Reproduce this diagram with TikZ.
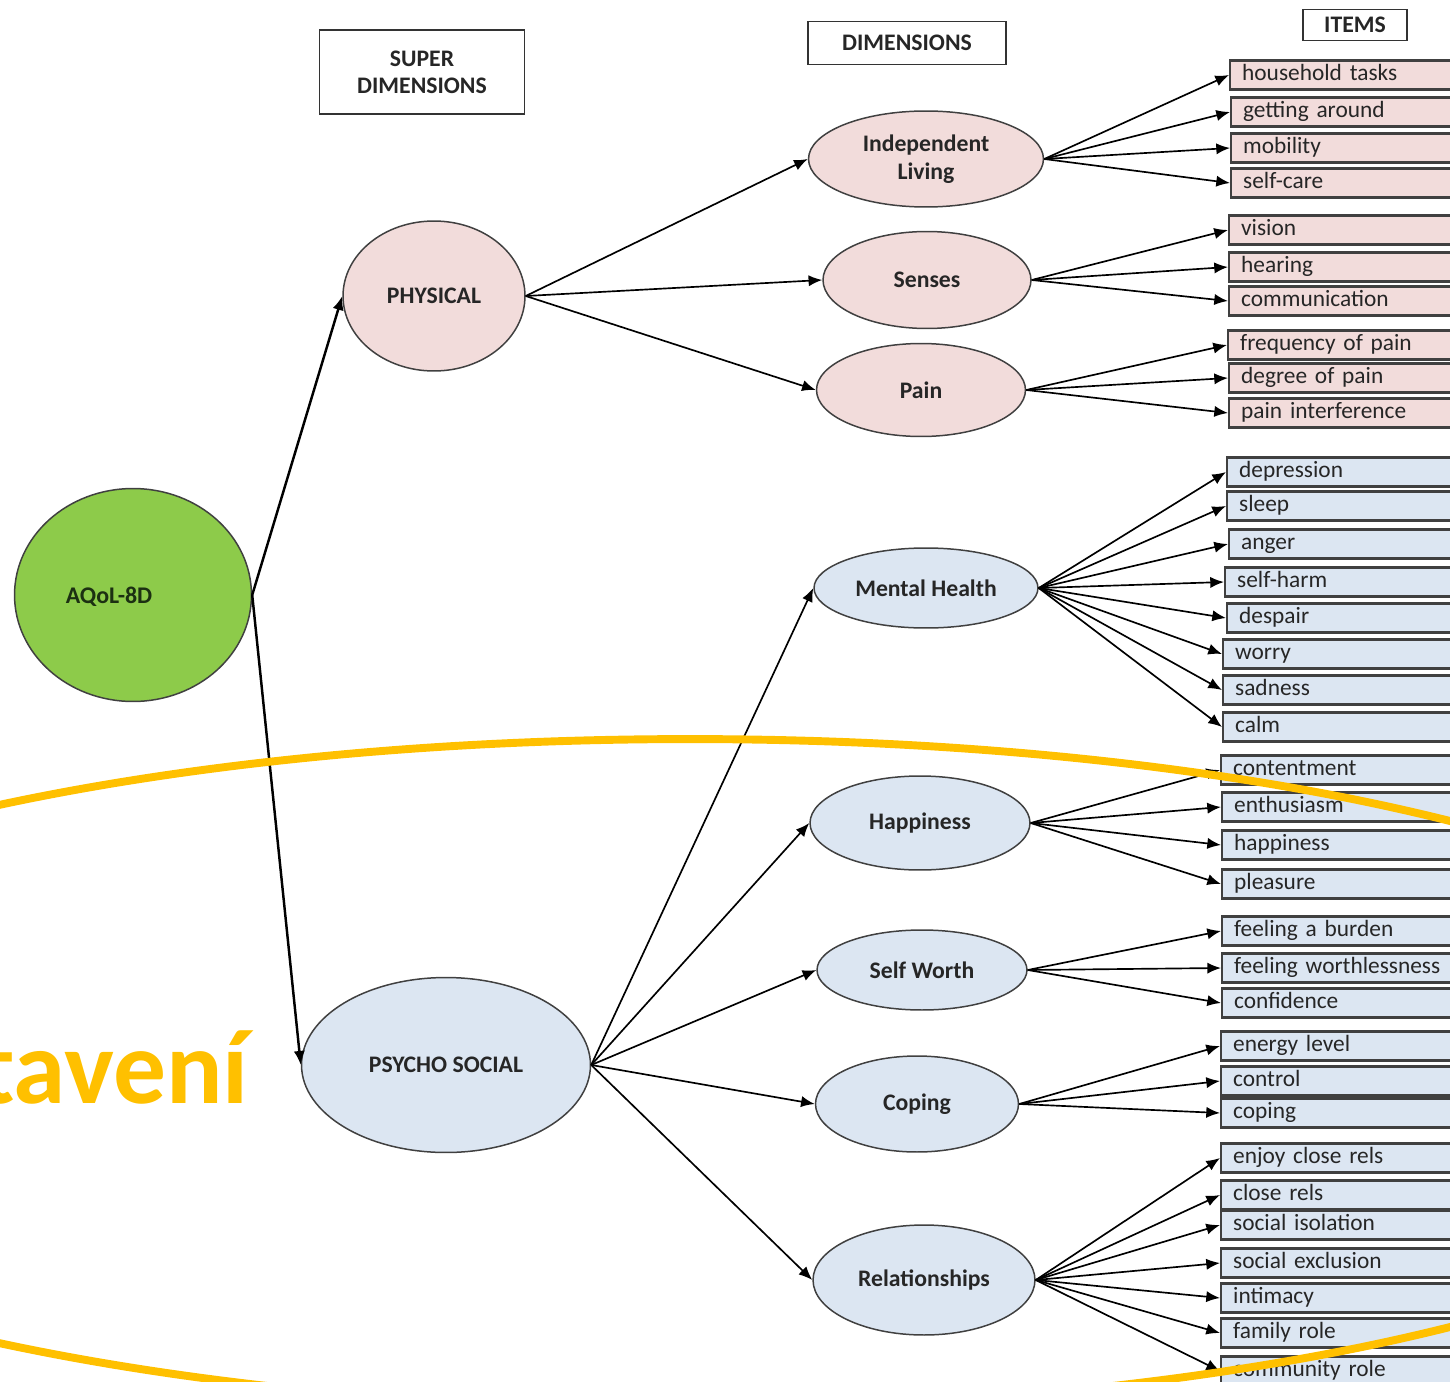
\documentclass[tikz,border=0pt]{standalone}
\usepackage{fontspec}
\setmainfont{Carlito}
\usetikzlibrary{arrows.meta,shapes.geometric}
\definecolor{pinkfill}{RGB}{242,220,219}
\definecolor{bluefill}{RGB}{220,230,242}
\definecolor{aqolgreen}{RGB}{141,203,74}
\definecolor{aqoltext}{RGB}{28,48,18}
\definecolor{gold}{RGB}{255,192,0}
\begin{document}
\begin{tikzpicture}[x=0.02cm,y=-0.02cm]

    \tikzset{
      dim/.style={
        ellipse,
        draw=black!75,
        line width=0.85pt,
        inner sep=0pt,
        align=center,
        text=black!85,
        font=\fontsize{13.5}{15.8}\selectfont\bfseries,
      },
      header/.style={
        draw=black!80,
        line width=1.1pt,
        inner sep=0pt,
        align=center,
        text=black!85,
        font=\fontsize{13.5}{15.3}\selectfont\bfseries,
      },
      item/.style={
        draw=black!75,
        line width=1.3pt,
        anchor=west,
        minimum height=0.58cm,
        text width=4.32cm,
        inner xsep=0.24cm,
        inner ysep=0pt,
        align=left,
        text=black!85,
        font=\fontsize{13.3}{15}\selectfont,
      },
      link/.style={-{Latex[length=7.8pt,width=6.4pt]}, line width=0.95pt},
      mainlink/.style={-{Latex[length=8pt,width=6.4pt]}, line width=1.4pt},
    }
    \useasboundingbox (0,0) rectangle (1450,1382);
    \clip (0,0) rectangle (1450,1382);

	\node[header, minimum width=4.1cm, minimum height=1.68cm] (superhd) at (422,72) {SUPER\\DIMENSIONS};
	\node[header, minimum width=3.96cm, minimum height=0.86cm] (dimhd) at (907,43) {DIMENSIONS};
	\node[header, minimum width=2.08cm, minimum height=0.62cm] (itemhd) at (1355,25) {ITEMS};

	\node[dim, fill=aqolgreen, minimum width=4.74cm, minimum height=4.26cm] (aqol) at (133,595) {};
	\node[text=aqoltext, font=\fontsize{13.6}{15}\selectfont\bfseries] (aqoltxt) at (109,597) {AQoL-8D};
	\node[dim, fill=pinkfill, minimum width=3.64cm, minimum height=3cm] (phys) at (434,296) {PHYSICAL};
	\node[dim, fill=bluefill, minimum width=5.78cm, minimum height=3.5cm] (psy) at (446,1065) {PSYCHO SOCIAL};

	\node[dim, fill=pinkfill, minimum width=4.7cm, minimum height=1.92cm] (indep) at (926,159) {Independent\\Living};
	\node[dim, fill=pinkfill, minimum width=4.16cm, minimum height=1.94cm] (senses) at (927,280) {Senses};
	\node[dim, fill=pinkfill, minimum width=4.18cm, minimum height=1.86cm] (pain) at (921,390) {Pain};
	\node[dim, fill=bluefill, minimum width=4.48cm, minimum height=1.6cm] (mental) at (926,588) {Mental Health};
	\node[dim, fill=bluefill, minimum width=4.4cm, minimum height=1.88cm] (happy) at (920,823) {Happiness};
	\node[dim, fill=bluefill, minimum width=4.2cm, minimum height=1.6cm] (selfw) at (922,970) {Self Worth};
	\node[dim, fill=bluefill, minimum width=4.06cm, minimum height=1.92cm] (coping) at (917,1104) {Coping};
	\node[dim, fill=bluefill, minimum width=4.44cm, minimum height=2.2cm] (rel) at (924,1280) {Relationships};

	\foreach \nm/\x/\y/\txt in {hh/1229/75/household tasks, ga/1230/112/getting around, mob/1230/148/mobility, sc/1230/183/self-care, vis/1228/230/vision, hear/1228/267/hearing, comm/1228/301/communication, freq/1227/345/frequency of pain, deg/1228/378/degree of pain, pint/1228/413/pain interference}
	  \node[item, fill=pinkfill] (\nm) at (\x,\y) {\strut\txt};

	\foreach \nm/\x/\y/\txt in {dep/1226/472/depression, slp/1226/506/sleep, ang/1228/544/anger, sh/1224/582/self-harm, desp/1226/618/despair, wor/1222/654/worry, sad/1222/690/sadness, calm/1222/727/calm, cont/1220/770/contentment, enth/1221/807/enthusiasm, hap/1221/845/happiness, plea/1221/884/pleasure, burd/1221/931/feeling a burden, worth/1221/968/feeling worthlessness, conf/1221/1003/confidence, en/1220/1046/energy level, ctrl/1220/1081/control, cop/1220/1113/coping, ecr/1220/1158/enjoy close rels, cr/1220/1195/close rels, si/1220/1225/social isolation, se/1220/1263/social exclusion, intim/1220/1298/intimacy, fam/1220/1333/family role, comr/1220/1371/community role}
	  \node[item, fill=bluefill] (\nm) at (\x,\y) {\strut\txt};

	\draw[mainlink] (aqol.east) -- (phys.west);
	\draw[mainlink] (aqol.east) -- (psy.west);
	\foreach \d in {indep,senses,pain}
	  \draw[link] (phys.east) -- (\d.west);
	\foreach \d in {mental,happy,selfw,coping,rel}
	  \draw[link] (psy.east) -- (\d.west);
	\foreach \d/\i in {indep/hh, indep/ga, indep/mob, indep/sc, senses/vis, senses/hear, senses/comm, pain/freq, pain/deg, pain/pint, mental/dep, mental/slp, mental/ang, mental/sh, mental/desp, mental/wor, mental/sad, mental/calm, happy/cont, happy/enth, happy/hap, happy/plea, selfw/burd, selfw/worth, selfw/conf, coping/en, coping/ctrl, coping/cop, rel/ecr, rel/cr, rel/si, rel/se, rel/intim, rel/fam, rel/comr}
	  \draw[link] (\d.east) -- (\i.west);

	\draw[gold, line width=4.5pt] (690,1074) ellipse [x radius=23.2cm, y radius=6.7cm];
	\node[anchor=base east, inner sep=0pt, text=gold, font=\fontsize{60}{60}\selectfont\bfseries] (tav) at (249,1103) {tavení};

\end{tikzpicture}
\end{document}
